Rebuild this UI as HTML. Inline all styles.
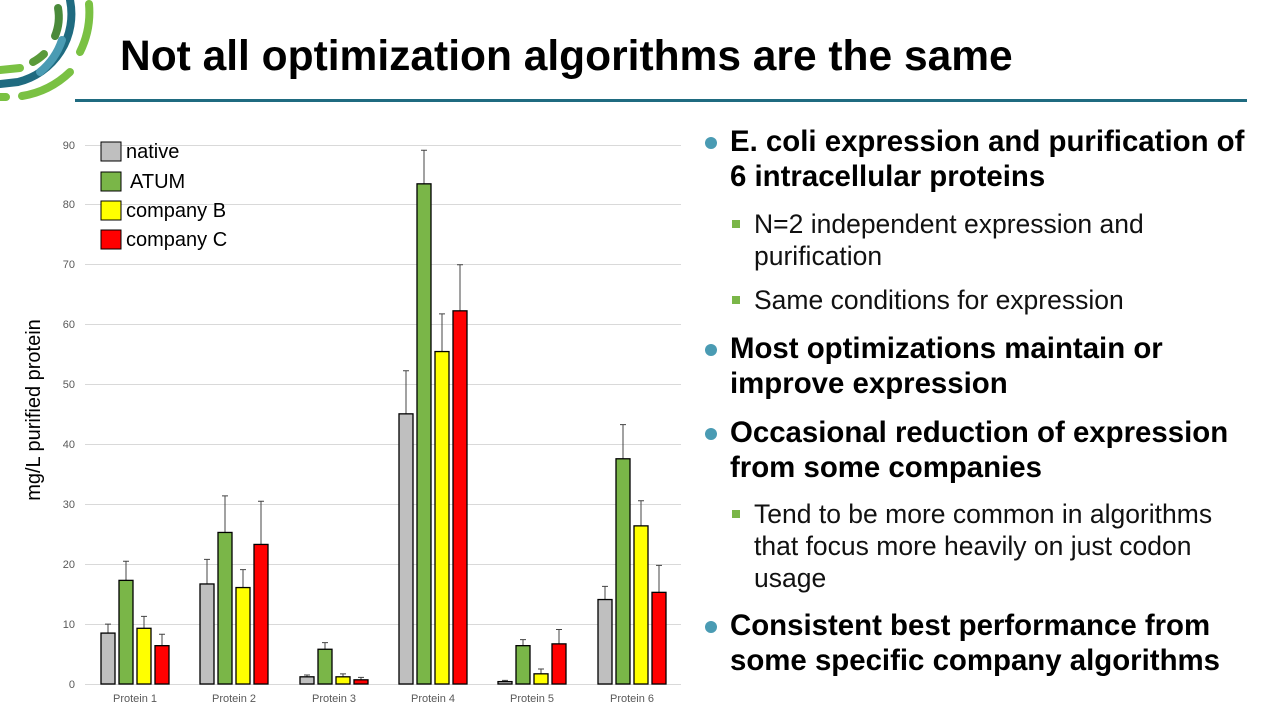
<!DOCTYPE html>
<html><head><meta charset="utf-8"><style>
html,body{margin:0;padding:0;background:#fff;}
body{width:1278px;height:719px;position:relative;overflow:hidden;font-family:"Liberation Sans",Arial,sans-serif;}
.t{position:absolute;left:120px;top:33px;font-size:42.5px;font-weight:bold;color:#000;}
.rule{position:absolute;left:75px;top:99px;width:1172px;height:3px;background:#1f6b80;}
.b{position:absolute;left:730px;font-size:29.4px;font-weight:bold;line-height:35px;color:#000;white-space:nowrap;}
.b:before{content:"";position:absolute;left:-25px;top:13px;width:12px;height:12px;border-radius:50%;background:#4a9bb3;}
.s{position:absolute;left:754px;font-size:26.5px;line-height:32px;color:#111;white-space:nowrap;}
.s:before{content:"";position:absolute;left:-22px;top:12px;width:8px;height:8px;background:#7ab648;}
</style></head><body>
<svg width="120" height="110" style="position:absolute;left:0;top:0" viewBox="0 0 120 110">
<g fill="none" stroke-linecap="round" stroke-width="8">
<path d="M89 4 A90 90 0 0 1 80 52" stroke="#7ac143"/>
<path d="M70 72 A90 90 0 0 1 22 96" stroke="#7ac143"/>
<path d="M6 97 A100 100 0 0 1 0 97" stroke="#7ac143"/>
<path d="M70 0 A70 70 0 0 1 18 82 L0 84" stroke="#1f6b80"/>
<path d="M62 40 A70 70 0 0 1 40 72" stroke="#4a9bb3"/>
<path d="M58 8 A50 50 0 0 1 55 36" stroke="#4a8a3a"/>
<path d="M44 54 A50 50 0 0 1 33 62" stroke="#5a9a3a"/>
<path d="M20 68 L0 70" stroke="#7ac143"/>
</g></svg>
<div class="t">Not all optimization algorithms are the same</div>
<div class="rule"></div>
<svg width="700" height="719" style="position:absolute;left:0;top:0" font-family="Liberation Sans,Arial,sans-serif">
<g stroke="#d9d9d9" stroke-width="1">
<line x1="85" x2="681" y1="684.5" y2="684.5"/><line x1="85" x2="681" y1="624.5" y2="624.5"/><line x1="85" x2="681" y1="564.5" y2="564.5"/><line x1="85" x2="681" y1="504.5" y2="504.5"/><line x1="85" x2="681" y1="444.5" y2="444.5"/><line x1="85" x2="681" y1="384.5" y2="384.5"/><line x1="85" x2="681" y1="324.5" y2="324.5"/><line x1="85" x2="681" y1="264.5" y2="264.5"/><line x1="85" x2="681" y1="204.5" y2="204.5"/><line x1="85" x2="681" y1="145.5" y2="145.5"/>
</g>
<g font-size="11" fill="#595959" text-anchor="end">
<text x="75" y="688">0</text><text x="75" y="628">10</text><text x="75" y="568">20</text><text x="75" y="508">30</text><text x="75" y="448">40</text><text x="75" y="388">50</text><text x="75" y="328">60</text><text x="75" y="268">70</text><text x="75" y="208">80</text><text x="75" y="149">90</text>
</g>
<text transform="translate(40,410) rotate(-90)" font-size="20" text-anchor="middle" fill="#000">mg/L purified protein</text>
<g font-size="11" fill="#595959" text-anchor="middle">
<text x="135" y="702">Protein 1</text><text x="234" y="702">Protein 2</text><text x="334" y="702">Protein 3</text><text x="433" y="702">Protein 4</text><text x="532" y="702">Protein 5</text><text x="632" y="702">Protein 6</text>
</g>
<g id="bars" stroke="#000" stroke-width="1.3"></g>
<g stroke="#000" stroke-width="1">
<rect x="101" y="142" width="20" height="19" fill="#bfbfbf"/><rect x="101" y="172" width="20" height="19" fill="#7ab648"/><rect x="101" y="201" width="20" height="19" fill="#ffff00"/><rect x="101" y="230" width="20" height="19" fill="#ff0000"/>
</g>
<g font-size="20" fill="#000"><text x="126" y="158">native</text><text x="130" y="188">ATUM</text><text x="126" y="217">company B</text><text x="126" y="246">company C</text></g>
</svg>
<script>
var d=[[8.5,10,17.3,20.5,9.3,11.3,6.4,8.3],[16.7,20.8,25.3,31.4,16.1,19.1,23.3,30.5],[1.2,1.5,5.8,6.9,1.2,1.7,0.7,1.1],[45.1,52.3,83.5,89.1,55.5,61.8,62.3,70.0],[0.4,0.6,6.4,7.4,1.7,2.5,6.7,9.1],[14.1,16.3,37.6,43.3,26.4,30.6,15.3,19.8]];
var cols=["#bfbfbf","#7ab648","#ffff00","#ff0000"],ns="http://www.w3.org/2000/svg",g=document.getElementById("bars"),c=[135,234,334,433,532,632];
function y(v){return 684-v*5.99;}
d.forEach(function(r,i){for(var k=0;k<4;k++){var x=c[i]-34+k*18,v=r[2*k],e=r[2*k+1];
var l=document.createElementNS(ns,"path");l.setAttribute("d","M"+(x+7)+" "+y(v)+"V"+y(e)+"M"+(x+4)+" "+y(e)+"H"+(x+10));l.setAttribute("stroke","#444");l.setAttribute("stroke-width","1");g.appendChild(l);
var b=document.createElementNS(ns,"rect");b.setAttribute("x",x);b.setAttribute("y",y(v));b.setAttribute("width",14);b.setAttribute("height",v*5.99);b.setAttribute("fill",cols[k]);g.appendChild(b);}});
</script>
<div class="b" style="top:124px">E. coli expression and purification of<br>6 intracellular proteins</div>
<div class="s" style="top:208px">N=2 independent expression and<br>purification</div>
<div class="s" style="top:284px">Same conditions for expression</div>
<div class="b" style="top:331px">Most optimizations maintain or<br>improve expression</div>
<div class="b" style="top:415px">Occasional reduction of expression<br>from some companies</div>
<div class="s" style="top:498px">Tend to be more common in algorithms<br>that focus more heavily on just codon<br>usage</div>
<div class="b" style="top:608px">Consistent best performance from<br>some specific company algorithms</div>
</body></html>
